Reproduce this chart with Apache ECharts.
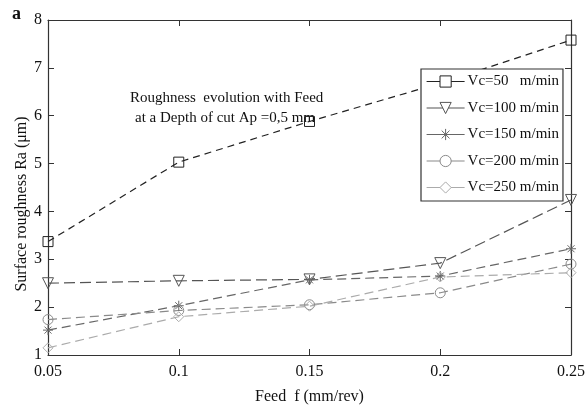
<!DOCTYPE html>
<html><head><meta charset="utf-8">
<script src="https://cdn.jsdelivr.net/npm/echarts@6/dist/echarts.min.js"></script>
<style>html,body{margin:0;padding:0;background:#fff}#c{width:588px;height:410px}</style>
</head><body><div id="c"></div>
<script>
var feed = [0.05, 0.1, 0.15, 0.2, 0.25];
var seriesNames = ['Vc=50   m/min', 'Vc=100 m/min', 'Vc=150 m/min', 'Vc=200 m/min', 'Vc=250 m/min'];
var vc50  = [3.37, 5.03, 5.88, 6.68, 7.58];
var vc100 = [2.50, 2.55, 2.58, 2.92, 4.24];
var vc150 = [1.52, 2.03, 2.57, 2.65, 3.22];
var vc200 = [1.74, 1.93, 2.05, 2.30, 2.90];
var vc250 = [1.15, 1.80, 2.02, 2.63, 2.72];
var xTicks = [0.05, 0.1, 0.15, 0.2, 0.25];
var yTicks = [1, 2, 3, 4, 5, 6, 7, 8];

var values = [vc50, vc100, vc150, vc200, vc250];
var colors = ['#222222', '#555555', '#666666', '#8a8a8a', '#ababab'];
var symbols = ['rect', 'triangle', 'path://M0,-1L0,1M-1,0L1,0M-0.7,-0.7L0.7,0.7M-0.7,0.7L0.7,-0.7', 'circle', 'diamond'];
var rot = [0, 180, 0, 0, 0];
var sizes = [10, 11, 10, 10, 10];
var dashes = [[7,5],[11,5],[9,5],[9,5],[9,5]];
var font = 'Liberation Serif';

var series = values.map(function (v, i) {
  return {
    name: seriesNames[i], type: 'line',
    data: feed.map(function (f, j) { return [f, v[j]]; }),
    symbol: symbols[i], symbolSize: sizes[i], symbolRotate: rot[i],
    showAllSymbol: true,
    lineStyle: { color: colors[i], width: 1.2, type: dashes[i] },
    itemStyle: { color: 'rgba(255,255,255,0)', borderColor: colors[i], borderWidth: 1 },
    emphasis: { disabled: true },
    animation: false, z: 2, zlevel: 0
  };
});

var axisCommon = {
  axisLine: { show: true, lineStyle: { color: '#333', width: 1.2 } },
  axisTick: { show: true, inside: true, length: 6, lineStyle: { color: '#333' } },
  splitLine: { show: false }
};

var option = {
  animation: false,
  grid: { left: 48, right: 14, top: 20, bottom: 52, containLabel: false },
  legend: {
    show: true, orient: 'vertical', left: 421, top: 69, z: 20,
    itemWidth: 38, itemHeight: 14, itemGap: 11.5,
    padding: [5, 4, 6, 5],
    borderColor: '#333', borderWidth: 1.2, backgroundColor: '#fff',
    textStyle: { fontFamily: font, fontSize: 15, color: '#111', padding: [0, 0, 0, -2] },
    data: seriesNames.map(function (n, i) {
      return { name: n,
        itemStyle: { color: '#fff', borderColor: colors[i], borderWidth: 1 },
        lineStyle: { type: 'solid', color: colors[i], width: 1.2 } };
    })
  },
  xAxis: [
    Object.assign({ type: 'value', min: 0.05, max: 0.25, interval: 0.05, position: 'bottom',
      name: 'Feed  f (mm/rev)', nameLocation: 'middle', nameGap: 34,
      nameTextStyle: { fontFamily: font, fontSize: 16, color: '#111' },
      axisLabel: { fontFamily: font, fontSize: 16, color: '#111', margin: 9,
        formatter: function (v) { return String(+v.toFixed(2)); } } }, axisCommon),
    Object.assign({ type: 'value', min: 0.05, max: 0.25, interval: 0.05, position: 'top',
      axisLabel: { show: false } }, axisCommon)
  ],
  yAxis: [
    Object.assign({ type: 'value', min: 1, max: 8, interval: 1, position: 'left',
      axisLabel: { fontFamily: font, fontSize: 16, color: '#111', margin: 6 } }, axisCommon),
    Object.assign({ type: 'value', min: 1, max: 8, interval: 1, position: 'right',
      axisLabel: { show: false } }, axisCommon)
  ],
  graphic: [
    { type: 'text', left: 12, top: 5, style: { text: 'a', font: 'bold 18px "Liberation Serif"', fill: '#111' } },
    { type: 'text', x: 22, y: 204, rotation: Math.PI / 2,
      style: { text: 'Surface roughness Ra (\u03bcm)', font: '16px "Liberation Serif"', fill: '#111', align: 'center', verticalAlign: 'middle' } },
    { type: 'text', left: 130, top: 91, style: { text: 'Roughness  evolution with Feed', font: '15px "Liberation Serif"', fill: '#111' } },
    { type: 'text', left: 135, top: 111, style: { text: 'at a Depth of cut Ap =0,5 mm', font: '15px "Liberation Serif"', fill: '#111' } }
  ],
  series: series
};
var chart = echarts.init(document.getElementById('c'), null, { renderer: 'canvas' });
chart.setOption(option);
</script></body></html>
